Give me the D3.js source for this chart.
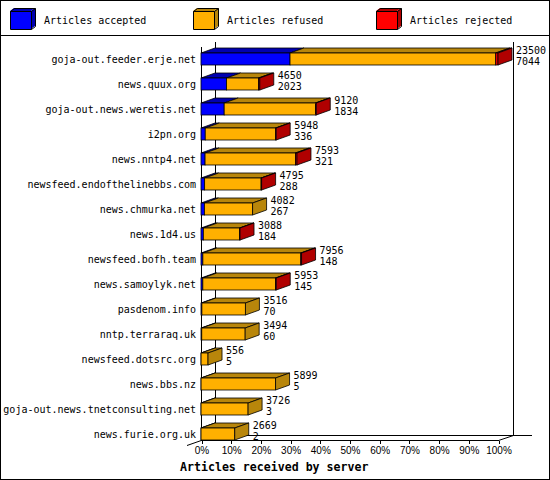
<!DOCTYPE html>
<html lang="en">
<head>
    <meta charset="UTF-8">
    <title>Articles received by server</title>
    <script src="https://d3js.org/d3.v7.min.js"></script>
    <style>
        body {
            margin: 0;
            background: #fff;
        }

        svg {
            display: block;
            font-family: "DejaVu Sans Mono", monospace;
        }

        .small {
            font-size: 10px;
            fill: #000;
        }

        .title {
            font-size: 11.6px;
            font-weight: bold;
            fill: #000;
        }
    </style>
</head>
<body>

<div id="chart"></div>

<script>
    const servers = [
        "goja-out.feeder.erje.net", "news.quux.org", "goja-out.news.weretis.net",
        "i2pn.org", "news.nntp4.net", "newsfeed.endofthelinebbs.com",
        "news.chmurka.net", "news.1d4.us", "newsfeed.bofh.team",
        "news.samoylyk.net", "pasdenom.info", "nntp.terraraq.uk",
        "newsfeed.dotsrc.org", "news.bbs.nz", "goja-out.news.tnetconsulting.net",
        "news.furie.org.uk"
    ];
    const accepted = [7044, 2023, 1834, 336, 321, 288, 267, 184, 148, 145, 70, 60, 5, 5, 3, 2];
    const refused = [16276, 2527, 7226, 5572, 7152, 4467, 3815, 2874, 7748, 5758, 3446, 3434, 551, 5894, 3723, 2667];
    const rejected = [180, 100, 60, 40, 120, 40, 0, 30, 60, 50, 0, 0, 0, 0, 0, 0];

    const seriesNames = ["Articles accepted", "Articles refused", "Articles rejected"];
    const frontColors = ["#0000ff", "#ffb000", "#ff0000"];
    const darkColors = ["#0000b0", "#b8860b", "#b00000"];

    const width = 550, height = 480;
    const depthX = 14, depthY = 5;
    const barHalf = 6;

    const totals = servers.map((s, i) => accepted[i] + refused[i] + rejected[i]);

    const svg = d3.select("#chart")
        .append("svg")
        .attr("width", width)
        .attr("height", height);

    const x = d3.scaleLinear()
        .domain([0, d3.max(totals)])
        .range([201, 498]);

    const pct = d3.scaleLinear()
        .domain([0, 1])
        .range([201, 498]);

    const y = d3.scalePoint()
        .domain(servers)
        .range([59, 434]);

    const line = (x1, y1, x2, y2) => svg.append("line")
        .attr("x1", x1).attr("y1", y1).attr("x2", x2).attr("y2", y2)
        .attr("stroke", "#000")
        .attr("shape-rendering", "crispEdges");

    // frame and legend separator
    svg.append("rect")
        .attr("x", 0.5).attr("y", 0.5)
        .attr("width", width - 1).attr("height", height - 1)
        .attr("fill", "none")
        .attr("stroke", "#000")
        .attr("shape-rendering", "crispEdges");
    line(0, 35.5, width, 35.5);

    // legend cubes
    const legend = svg.selectAll(".legend")
        .data(seriesNames)
        .enter()
        .append("g")
        .attr("transform", (d, i) => `translate(${10 + i * 183},11)`);

    legend.append("polygon")
        .attr("points", "0,0 4,-3 25,-3 21,0")
        .attr("fill", (d, i) => darkColors[i]);
    legend.append("polygon")
        .attr("points", "21,0 25,-3 25,15 21,18")
        .attr("fill", (d, i) => darkColors[i]);
    legend.append("rect")
        .attr("width", 21).attr("height", 18)
        .attr("fill", (d, i) => frontColors[i]);
    legend.append("path")
        .attr("d", "M0.5,0.5 L4.5,-2.5 L25.5,-2.5 L25.5,15.5 L21.5,18.5 L0.5,18.5 Z M0.5,0.5 L21.5,0.5 L25.5,-2.5 M21.5,0.5 L21.5,18.5")
        .attr("fill", "none")
        .attr("stroke", "#000");
    legend.append("text")
        .attr("class", "small")
        .attr("x", 34)
        .attr("y", 12.5)
        .text(d => d);

    // back walls and floor
    const yTop = 41.5, yBack = 435.5, yFront = 440.5;
    line(215.5, yTop, 215.5, yBack);
    line(513.5, yTop, 513.5, yBack);
    line(215.5, yBack, 532, yBack);
    line(187, yFront + 5, 215.5, yBack).attr("shape-rendering", null);
    line(498.5, yFront, 513.5, yBack).attr("shape-rendering", null);
    line(201.5, yTop + depthY, 201.5, yFront);
    line(201.5, yFront, 498.5, yFront);

    // bars
    servers.forEach((name, i) => {
        const c = y(name);
        const top = c - barHalf, bottom = c + barHalf;
        const values = [accepted[i], refused[i], rejected[i]];
        const g = svg.append("g");
        let start = 0;
        let last = 0;
        const segs = [];
        values.forEach((v, k) => {
            if (v > 0) {
                segs.push({ x0: x(start), x1: x(start + v), k: k });
                last = k;
            }
            start += v;
        });

        segs.forEach(s => {
            g.append("polygon")
                .attr("points", [[s.x0, top], [s.x0 + depthX, top - depthY], [s.x1 + depthX, top - depthY], [s.x1, top]].join(" "))
                .attr("fill", darkColors[s.k])
                .attr("stroke", "#000")
                .attr("stroke-width", 0.8);
        });
        segs.forEach(s => {
            g.append("rect")
                .attr("x", s.x0).attr("y", top)
                .attr("width", s.x1 - s.x0).attr("height", bottom - top)
                .attr("fill", frontColors[s.k])
                .attr("stroke", "#000")
                .attr("stroke-width", 0.8);
        });
        const xe = x(totals[i]);
        g.append("polygon")
            .attr("points", [[xe, top], [xe + depthX, top - depthY], [xe + depthX, bottom - depthY], [xe, bottom]].join(" "))
            .attr("fill", darkColors[last])
            .attr("stroke", "#000")
            .attr("stroke-width", 0.8);

        // value labels: total offered, then accepted
        svg.append("text")
            .attr("class", "small")
            .attr("x", xe + depthX + 4)
            .attr("y", c - 5.5)
            .text(totals[i]);
        svg.append("text")
            .attr("class", "small")
            .attr("x", xe + depthX + 4)
            .attr("y", c + 6)
            .text(accepted[i]);

        svg.append("text")
            .attr("class", "small")
            .attr("x", 196)
            .attr("y", c + 3.5)
            .attr("text-anchor", "end")
            .text(name);
    });

    // percent axis
    const axis = svg.append("g")
        .attr("transform", `translate(0.5,${yFront})`)
        .call(d3.axisBottom(pct)
            .tickValues(d3.range(0, 11).map(d => d / 10))
            .tickFormat(d3.format(".0%"))
            .tickSize(3)
            .tickPadding(3));
    axis.select(".domain").remove();
    axis.selectAll("line").attr("shape-rendering", "crispEdges");
    axis.selectAll("text")
        .attr("class", "small")
        .attr("font-family", null)
        .attr("font-size", null);

    svg.append("text")
        .attr("class", "title")
        .attr("x", 180)
        .attr("y", 471)
        .text("Articles received by server");
</script>
</body>
</html>
